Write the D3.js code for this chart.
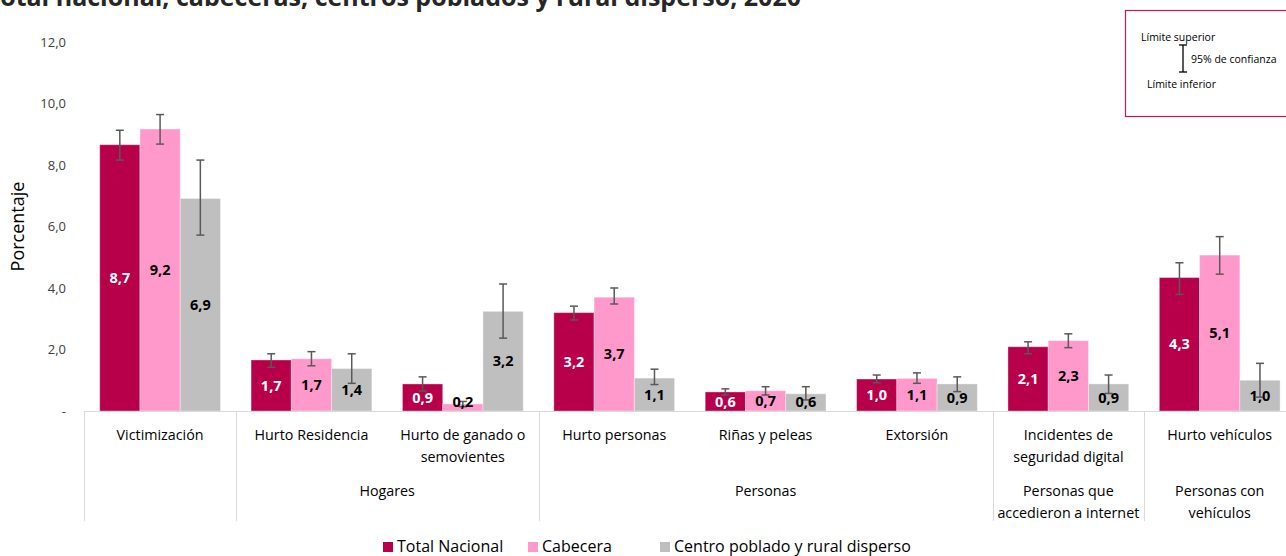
<!DOCTYPE html>
<html>
<head>
<meta charset="utf-8">
<script src="https://cdn.jsdelivr.net/npm/d3@7"></script>
<style>
  html, body { margin: 0; padding: 0; background: #ffffff; }
  svg { display: block; font-family: "Open Sans", "Noto Sans", sans-serif; }
</style>
</head>
<body>
<svg id="chart" width="1286" height="556"></svg>
<script>
// ---- Data ----
const categories = ["Victimización", "Hurto Residencia", "Hurto de ganado o semovientes", "Hurto personas", "Riñas y peleas", "Extorsión", "Incidentes de seguridad digital", "Hurto vehículos"];
const categoryLines = [["Victimización"], ["Hurto Residencia"], ["Hurto de ganado o", "semovientes"], ["Hurto personas"], ["Riñas y peleas"], ["Extorsión"], ["Incidentes de", "seguridad digital"], ["Hurto vehículos"]];
const groupNames = [[], ["Hogares"], ["Personas"], ["Personas que", "accedieron a internet"], ["Personas con", "vehículos"]];
const groupStart = [0, 1, 3, 6, 7];
const groupEnd = [0, 2, 5, 6, 7];
const seriesNames = ["Total Nacional", "Cabecera", "Centro poblado y rural disperso"];
const totalValues = [8.66, 1.66, 0.88, 3.20, 0.62, 1.04, 2.09, 4.34];
const cabeceraValues = [9.17, 1.70, 0.23, 3.70, 0.66, 1.06, 2.29, 5.07];
const centroValues = [6.91, 1.38, 3.24, 1.07, 0.56, 0.88, 0.88, 1.00];
const totalLower = [8.16, 1.42, 0.65, 2.96, 0.52, 0.92, 1.86, 3.79];
const totalUpper = [9.13, 1.86, 1.11, 3.41, 0.72, 1.17, 2.25, 4.82];
const cabeceraLower = [8.68, 1.47, 0.14, 3.48, 0.52, 0.90, 2.06, 4.45];
const cabeceraUpper = [9.64, 1.93, 0.31, 4.00, 0.79, 1.24, 2.51, 5.67];
const centroLower = [5.72, 0.90, 2.37, 0.86, 0.36, 0.63, 0.57, 0.45];
const centroUpper = [8.16, 1.86, 4.13, 1.36, 0.79, 1.11, 1.17, 1.55];
const yTickValues = [0, 2, 4, 6, 8, 10, 12];
const yTickLabels = ["-", "2,0", "4,0", "6,0", "8,0", "10,0", "12,0"];
const titleText = "Total nacional, cabeceras, centros poblados y rural disperso, 2020";

const colors = ["#B8004A", "#FF99CC", "#BFBFBF"];
const labelColors = ["#ffffff", "#000000", "#000000"];

const seriesValues = [totalValues, cabeceraValues, centroValues];
const seriesLower = [totalLower, cabeceraLower, centroLower];
const seriesUpper = [totalUpper, cabeceraUpper, centroUpper];

// ---- Scales ----
const svg = d3.select("#chart");
const y0 = 411, yTop = 42;
const y = d3.scaleLinear().domain([0, 12]).range([y0, yTop]);
const x0 = d3.scaleBand().domain(categories).range([84.4, 1295.4]).paddingInner(0).paddingOuter(0);
const x1 = d3.scaleBand().domain(seriesNames).range([0, x0.bandwidth()]).paddingInner(0).paddingOuter(0.38);

// ---- Title (clipped at top, as in the reference) ----
svg.append("text")
  .attr("x", 801).attr("y", 6)
  .attr("text-anchor", "end")
  .attr("font-size", 25).attr("font-weight", 700)
  .attr("fill", "#262626")
  .text(titleText);

// ---- Y axis ----
const yAxis = d3.axisLeft(y).tickValues(yTickValues).tickSize(0).tickPadding(0)
  .tickFormat((d, i) => yTickLabels[i]);
const gy = svg.append("g").attr("transform", "translate(66,0)").call(yAxis);
gy.select(".domain").remove();
gy.selectAll("text").attr("font-size", 13).attr("fill", "#404040")
  .attr("font-family", "'Open Sans', sans-serif");

svg.append("text")
  .attr("transform", "translate(24," + ((y0 + yTop) / 2) + ") rotate(-90)")
  .attr("text-anchor", "middle")
  .attr("font-size", 18).attr("fill", "#000")
  .text("Porcentaje");

// ---- Bars ----
const data = [];
categories.forEach((c, ci) => {
  seriesNames.forEach((s, si) => {
    data.push({ c, ci, s, si, v: seriesValues[si][ci], lo: seriesLower[si][ci], hi: seriesUpper[si][ci] });
  });
});

svg.append("g").selectAll("rect").data(data).join("rect")
  .attr("x", d => x0(d.c) + x1(d.s))
  .attr("y", d => y(d.v))
  .attr("width", x1.bandwidth())
  .attr("height", d => y0 - y(d.v))
  .attr("fill", d => colors[d.si])
  .attr("stroke", "#ffffff").attr("stroke-opacity", 0.35).attr("stroke-width", 1);

// ---- X axis line & separators ----
svg.append("line").attr("x1", x0.range()[0]).attr("x2", 1286)
  .attr("y1", y0 + 0.5).attr("y2", y0 + 0.5)
  .attr("stroke", "#d9d9d9").attr("stroke-width", 1.2);

const sepIdx = [0, 1, 3, 6, 7];
svg.append("g").selectAll("line").data(sepIdx).join("line")
  .attr("x1", d => Math.round(x0(categories[d])) + 0.5)
  .attr("x2", d => Math.round(x0(categories[d])) + 0.5)
  .attr("y1", y0).attr("y2", 521)
  .attr("stroke", "#d9d9d9").attr("stroke-width", 1);

// ---- Error bars ----
const eb = svg.append("g").attr("stroke", "#595959").attr("stroke-width", 1.5).attr("fill", "none");
data.forEach(d => {
  const cx = x0(d.c) + x1(d.s) + x1.bandwidth() / 2;
  eb.append("line").attr("x1", cx).attr("x2", cx).attr("y1", y(d.hi)).attr("y2", y(d.lo));
  eb.append("line").attr("x1", cx - 4).attr("x2", cx + 4).attr("y1", y(d.hi)).attr("y2", y(d.hi));
  eb.append("line").attr("x1", cx - 4).attr("x2", cx + 4).attr("y1", y(d.lo)).attr("y2", y(d.lo));
});

// ---- Value labels ----
svg.append("g").selectAll("text").data(data).join("text")
  .attr("x", d => x0(d.c) + x1(d.s) + x1.bandwidth() / 2)
  .attr("y", d => Math.min((y(d.v) + y0) / 2, y0 - 9))
  .attr("dy", "0.35em")
  .attr("text-anchor", "middle")
  .attr("font-size", 14.5).attr("font-weight", 700)
  .attr("fill", d => labelColors[d.si])
  .text(d => d.v.toFixed(1).replace(".", ","));

// ---- Category labels ----
const catG = svg.append("g").attr("font-size", 14.3).attr("fill", "#000").attr("text-anchor", "middle");
categoryLines.forEach((lines, ci) => {
  const cx = x0(categories[ci]) + x0.bandwidth() / 2;
  const t = catG.append("text").attr("x", cx).attr("y", 440);
  lines.forEach((ln, li) => t.append("tspan").attr("x", cx).attr("dy", li === 0 ? 0 : 21.5).text(ln));
});

groupNames.forEach((lines, gi) => {
  const xa = x0(categories[groupStart[gi]]);
  const xb = x0(categories[groupEnd[gi]]) + x0.bandwidth();
  let cx = (xa + xb) / 2;
  if (gi === groupNames.length - 1) cx = x0(categories[groupEnd[gi]]) + x0.bandwidth() / 2;
  const t = catG.append("text").attr("x", cx).attr("y", 496);
  lines.forEach((ln, li) => t.append("tspan").attr("x", cx).attr("dy", li === 0 ? 0 : 21.5).text(ln));
});

// ---- Bottom legend ----
const legendX = [383, 528, 660];
const lg = svg.append("g");
seriesNames.forEach((s, i) => {
  lg.append("rect").attr("x", legendX[i]).attr("y", 542).attr("width", 10).attr("height", 10).attr("fill", colors[i]);
  lg.append("text").attr("x", legendX[i] + 14).attr("y", 551.5).attr("font-size", 16).attr("fill", "#000").text(s);
});

// ---- Confidence legend box ----
const box = svg.append("g");
box.append("rect").attr("x", 1125.5).attr("y", 10.5).attr("width", 170).attr("height", 106)
  .attr("fill", "#ffffff").attr("stroke", "#C2185B").attr("stroke-width", 1.2);
box.append("text").attr("x", 1141).attr("y", 41).attr("font-size", 10.5).attr("fill", "#000").text("Límite superior");
box.append("text").attr("x", 1191).attr("y", 63).attr("font-size", 10.5).attr("fill", "#000").text("95% de confianza");
box.append("text").attr("x", 1147).attr("y", 88).attr("font-size", 10.5).attr("fill", "#000").text("Límite inferior");
const bx = 1183;
box.append("line").attr("x1", bx).attr("x2", bx).attr("y1", 45).attr("y2", 72).attr("stroke", "#000").attr("stroke-width", 1.3);
box.append("line").attr("x1", bx - 4).attr("x2", bx + 4).attr("y1", 45).attr("y2", 45).attr("stroke", "#000").attr("stroke-width", 1.3);
box.append("line").attr("x1", bx - 4).attr("x2", bx + 4).attr("y1", 72).attr("y2", 72).attr("stroke", "#000").attr("stroke-width", 1.3);
</script>
</body>
</html>
